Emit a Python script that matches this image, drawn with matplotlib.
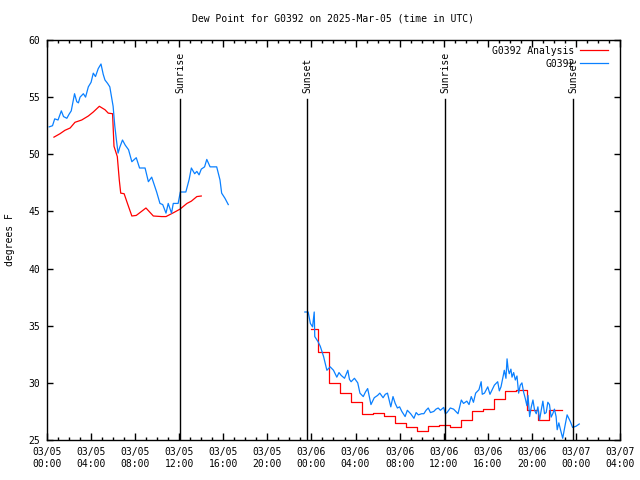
import matplotlib
matplotlib.use("Agg")
import matplotlib.pyplot as plt
import matplotlib.dates as mdates
import pandas as pd

START = pd.Timestamp("2025-03-05 00:00")

# hours after 2025-03-05 00:00 UTC, values in degrees F
obs1_h = [0.2, 0.5, 0.7, 1.0, 1.3, 1.5, 1.8, 2.0, 2.2, 2.5, 2.7, 2.85, 3.0, 3.3, 3.5, 3.75,
          4.0, 4.2, 4.4, 4.65, 4.9, 5.1, 5.26, 5.5, 5.7, 6.0, 6.15, 6.3, 6.45, 6.6, 6.85,
          7.1, 7.4, 7.7, 8.1, 8.4, 8.9, 9.2, 9.5, 9.95, 10.25, 10.5, 10.8, 11.0, 11.3,
          11.46, 11.9, 12.1, 12.6, 12.9, 13.1, 13.4, 13.6, 13.8, 14.0, 14.3, 14.5, 14.8,
          15.4, 15.7, 15.85, 16.15, 16.45]
obs1_v = [52.4, 52.5, 53.1, 53.0, 53.8, 53.3, 53.15, 53.5, 53.8, 55.3, 54.6, 54.5, 55.0,
          55.3, 55.0, 55.9, 56.3, 57.1, 56.8, 57.5, 57.9, 57.0, 56.5, 56.2, 55.9, 54.2,
          52.5, 51.25, 50.1, 50.6, 51.25, 50.8, 50.4, 49.35, 49.7, 48.8, 48.8, 47.6, 48.0,
          46.7, 45.7, 45.6, 44.85, 45.7, 44.85, 45.7, 45.7, 46.7, 46.7, 47.8, 48.8, 48.3,
          48.5, 48.2, 48.7, 48.9, 49.55, 48.9, 48.9, 47.75, 46.6, 46.15, 45.6]

obs2_h = [23.4, 23.7, 23.9, 24.1, 24.25, 24.3, 24.6, 24.8, 25.1, 25.25, 25.4, 25.7, 26.0,
          26.3, 26.5, 26.7, 27.0, 27.3, 27.45, 27.6, 27.9, 28.2, 28.4, 28.7, 28.9, 29.1,
          29.4, 29.7, 30.0, 30.2, 30.5, 30.7, 30.9, 31.2, 31.4, 31.6, 31.8, 32.0, 32.2,
          32.5, 32.7, 33.0, 33.3, 33.5, 33.7, 34.0, 34.2, 34.4, 34.6, 34.8, 35.1, 35.3,
          35.5, 35.7, 36.0, 36.15, 36.3, 36.6, 36.9, 37.1, 37.3, 37.6, 37.8, 38.1, 38.3,
          38.5, 38.7, 38.9, 39.2, 39.4, 39.5, 39.7, 40.0, 40.2, 40.4, 40.6, 40.9, 41.05,
          41.2, 41.4, 41.5, 41.65, 41.75, 41.85, 41.95, 42.1, 42.2, 42.35, 42.5, 42.65,
          42.8, 42.95, 43.1, 43.25, 43.4, 43.55, 43.65, 43.8, 43.95, 44.1, 44.25, 44.4,
          44.55, 44.7, 44.85, 45.0, 45.15, 45.3, 45.45, 45.6, 45.75, 45.9, 46.05, 46.2,
          46.3, 46.45, 46.6, 46.8, 47.0, 47.2, 47.35, 47.5, 47.7, 48.0, 48.3]
obs2_v = [36.2, 36.2, 35.2, 34.9, 36.2, 34.05, 33.6, 33.2, 32.3, 31.7, 31.1, 31.4, 31.1,
          30.5, 30.9, 30.65, 30.4, 31.1, 30.3, 30.1, 30.4, 30.0, 29.1, 28.8, 29.2, 29.5,
          28.1, 28.7, 28.9, 29.1, 28.7, 29.0, 29.1, 27.9, 28.8, 28.2, 27.8, 27.9, 27.5,
          27.05, 27.6, 27.3, 26.9, 27.4, 27.2, 27.3, 27.3, 27.6, 27.8, 27.4, 27.5, 27.7,
          27.8, 27.6, 27.85, 27.3, 27.4, 27.8, 27.7, 27.5, 27.3, 28.5, 28.2, 28.4, 28.1,
          28.8, 28.3, 29.1, 29.4, 30.1, 29.0, 29.1, 29.65, 29.0, 29.4, 29.8, 30.1, 29.3,
          29.65, 30.6, 31.1, 30.4, 32.1, 31.2, 30.8, 31.2, 30.5, 30.9, 30.25, 30.6,
          29.1, 29.8, 30.0, 29.2, 28.65, 28.0, 28.9, 27.05, 27.9, 28.5, 27.6, 27.3,
          27.9, 26.75, 27.6, 28.4, 27.3, 27.4, 28.3, 28.1, 27.0, 27.3, 27.7, 27.05,
          25.9, 26.5, 25.9, 25.15, 26.2, 27.2, 26.9, 26.6, 26.1, 26.2, 26.4]

ana1_h = [0.63, 1.18, 1.63, 2.1, 2.54, 3.15, 3.75, 4.2, 4.75, 5.26, 5.56, 5.95, 6.08, 6.38,
          6.56, 6.69, 7.0, 7.3, 7.7, 8.1, 8.98, 9.65, 10.4, 10.8, 11.5, 12.07, 12.7, 13.1,
          13.6, 14.0]
ana1_v = [51.5, 51.8, 52.1, 52.3, 52.8, 53.0, 53.35, 53.7, 54.2, 53.9, 53.6, 53.55, 50.7,
          49.8, 47.75, 46.6, 46.55, 45.7, 44.6, 44.65, 45.3, 44.6, 44.55, 44.55, 44.9,
          45.2, 45.7, 45.9, 46.3, 46.35]

ana2_h = [24.0, 24.6, 25.6, 26.6, 27.6, 28.6, 29.6, 30.6, 31.6, 32.6, 33.6, 34.6, 35.6,
          36.6, 37.6, 38.6, 39.6, 40.6, 41.6, 42.6, 43.6, 44.6, 45.6, 46.7]
ana2_v = [34.7, 32.7, 30.0, 29.1, 28.3, 27.3, 27.35, 27.1, 26.45, 26.1, 25.75, 26.2, 26.3,
          26.1, 26.75, 27.5, 27.7, 28.55, 29.3, 29.4, 27.6, 26.75, 27.6, 27.6]

sun_h = [12.07, 23.59, 36.12, 47.73]
sun_labels = ["Sunrise", "Sunset", "Sunrise", "Sunset"]

def t(hours):
    return [START + pd.Timedelta(hours=h) for h in hours]

FONT = "DejaVu Sans Mono"
FS = 7
RED = "#ff0000"
BLUE = "#0a80ff"

fig = plt.figure(figsize=(6.4, 4.8), dpi=100)
ax = fig.add_axes([47/640, 40/480, 573/640, 400/480])

lw = 0.9
ax.plot(t(ana1_h), ana1_v, color=RED, lw=lw, label="G0392 Analysis")
ax.plot(t(ana2_h), ana2_v, color=RED, lw=lw, drawstyle="steps-post")
ax.plot(t(obs1_h), obs1_v, color=BLUE, lw=lw, label="G0392")
ax.plot(t(obs2_h), obs2_v, color=BLUE, lw=lw)

for h, lab in zip(sun_h, sun_labels):
    x = START + pd.Timedelta(hours=h)
    ax.plot([x, x], [25, 54.85], color="black", lw=1.0)
    ax.text(x, 55.35, lab, rotation=90, ha="center", va="bottom",
            fontsize=FS, family=FONT)

ax.set_xlim(START, START + pd.Timedelta(hours=52))
ax.set_ylim(25, 60)
ax.set_yticks(range(25, 61, 5))
ax.xaxis.set_major_locator(mdates.HourLocator(byhour=range(0, 24, 4)))
ax.xaxis.set_minor_locator(mdates.HourLocator())
ax.xaxis.set_major_formatter(mdates.DateFormatter("%m/%d\n%H:%M"))

ax.tick_params(which="both", direction="in", top=True, right=True,
               labelsize=FS, width=1.0)
ax.tick_params(axis="x", which="major", length=5, pad=5)
ax.tick_params(axis="x", which="minor", length=2.5)
ax.tick_params(axis="y", which="major", length=4, pad=5)
for lbl in ax.get_xticklabels() + ax.get_yticklabels():
    lbl.set_family(FONT)
for sp in ax.spines.values():
    sp.set_linewidth(1.0)

ax.set_ylabel("degrees F", fontsize=FS, family=FONT, va="center")
ax.yaxis.set_label_coords(-37/573, 0.5)
ax.set_title("Dew Point for G0392 on 2025-Mar-05 (time in UTC)",
             fontsize=FS, family=FONT, pad=13)

leg = ax.legend(loc="upper right", frameon=False, markerfirst=False,
                prop={"family": FONT, "size": FS}, handlelength=2.9,
                borderaxespad=0.2, labelspacing=0.3, handletextpad=0.6,
                bbox_to_anchor=(0.99, 1.0))

fig.savefig("out.png", dpi=100)
